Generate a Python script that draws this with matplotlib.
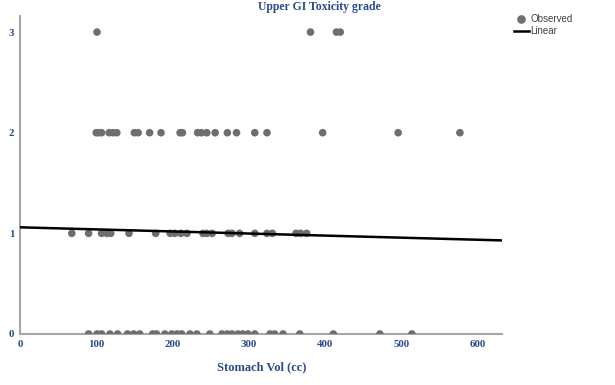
import numpy as np
import matplotlib
matplotlib.use("Agg")
import matplotlib.pyplot as plt
from matplotlib.lines import Line2D

# Observed stomach volumes (cc) by upper GI toxicity grade
vol_g0 = [90, 101, 107, 118, 128, 141, 149, 157, 174, 179, 190, 199, 206, 212,
          223, 232, 249, 265, 272, 278, 286, 292, 299, 308, 328, 334, 345, 367,
          411, 472, 514]
vol_g1 = [68, 90, 107, 114, 119, 143, 178, 197, 203, 211, 219, 240, 245, 252,
          273, 278, 288, 308, 324, 331, 362, 368, 376]
vol_g2 = [100, 103, 107, 117, 122, 127, 150, 155, 170, 185, 210, 213, 233, 238,
          245, 256, 272, 284, 308, 324, 397, 496, 577]
vol_g3 = [101, 381, 415, 420]

# linear fit line
fit_x = [0, 632]
fit_y = [1.06, 0.93]

x_ticks = [0, 100, 200, 300, 400, 500, 600]
y_ticks = [0, 1, 2, 3]

blue = "#2b4a8c"
dot_col = "#6e6e6e"
spine_col = "#a6a6a6"

fig = plt.figure(figsize=(6.15, 3.85), dpi=100)
ax = fig.add_axes([0.0325, 0.1325, 0.7835, 0.826])

xs = vol_g0 + vol_g1 + vol_g2 + vol_g3
ys = [0] * len(vol_g0) + [1] * len(vol_g1) + [2] * len(vol_g2) + [3] * len(vol_g3)
ax.scatter(xs, ys, s=30, color=dot_col, edgecolors="none", zorder=3)
ax.plot(fit_x, fit_y, color="black", lw=1.8, zorder=4)

ax.set_xlim(0, 632)
ax.set_ylim(0, 3.16)
ax.set_xticks(x_ticks)
ax.set_yticks(y_ticks)

for s in ["top", "right"]:
    ax.spines[s].set_visible(False)
for s in ["left", "bottom"]:
    ax.spines[s].set_color(spine_col)
    ax.spines[s].set_linewidth(1.5)

ax.tick_params(length=0, pad=4, labelsize=7.8, labelcolor=blue)
for lab in ax.get_xticklabels() + ax.get_yticklabels():
    lab.set_fontfamily("Liberation Serif")
    lab.set_fontweight("bold")

fig.text(0.519, 0.983, "Upper GI Toxicity grade", ha="center", va="center",
         fontsize=8.5, fontweight="bold", color=blue, family="Liberation Serif")
fig.text(0.425, 0.047, "Stomach Vol (cc)", ha="center", va="center",
         fontsize=9, fontweight="bold", color=blue, family="Liberation Serif")

handles = [
    Line2D([], [], marker="o", ls="none", color=dot_col, markersize=5.2),
    Line2D([], [], color="black", lw=1.8),
]
fig.legend(handles, ["Observed", "Linear"], loc="upper left",
           bbox_to_anchor=(0.828, 0.975), frameon=False,
           handlelength=1.5, handletextpad=0.15, labelspacing=0.2,
           borderpad=0, prop={"family": "Liberation Sans", "size": 7},
           labelcolor="#404040")

fig.savefig("out.png", dpi=100)
